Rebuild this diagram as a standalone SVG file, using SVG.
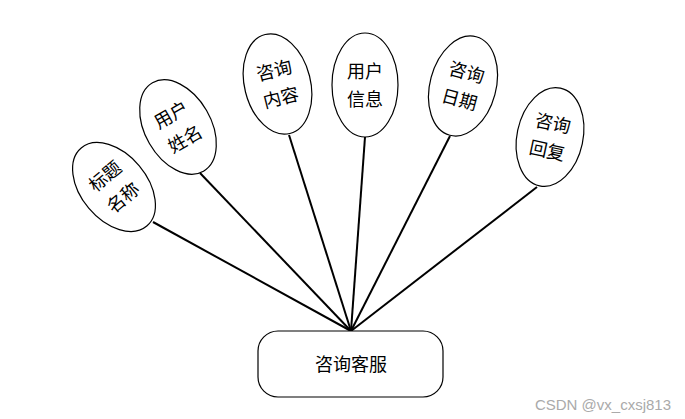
<svg xmlns="http://www.w3.org/2000/svg" width="685" height="419" viewBox="0 0 685 419">
<style>
.e{fill:#fff;stroke:#000;stroke-width:1.2}
.t{font-family:"Noto Sans CJK SC","Noto Sans",sans-serif;font-size:18px;fill:#000;text-anchor:middle}
.c{stroke:#000;stroke-width:2;fill:none}
.wm{font-family:"Liberation Sans",Arial,sans-serif;font-size:15px;fill:#aaa;text-anchor:end}
</style>
<rect width="685" height="419" fill="#fff"/>
<g id="connectors">
<line class="c" x1="351" y1="331" x2="153" y2="222"/>
<line class="c" x1="351" y1="331" x2="200" y2="173"/>
<line class="c" x1="351" y1="331" x2="289" y2="135"/>
<line class="c" x1="351" y1="331" x2="365" y2="137"/>
<line class="c" x1="351" y1="331" x2="450" y2="136"/>
<line class="c" x1="351" y1="331" x2="537" y2="187"/>
</g>
<g id="n1" transform="translate(114,187) rotate(-40)">
<ellipse class="e" rx="33" ry="51"/>
<text class="t"><tspan x="0" y="-7.5">标题</tspan><tspan x="0" y="20.5">名称</tspan></text>
</g>
<g id="n2" transform="translate(178,127) rotate(-30)">
<ellipse class="e" rx="33" ry="51"/>
<text class="t"><tspan x="0" y="-7.5">用户</tspan><tspan x="0" y="20.5">姓名</tspan></text>
</g>
<g id="n3" transform="translate(277.5,84) rotate(-14)">
<ellipse class="e" rx="33" ry="51"/>
<text class="t"><tspan x="0" y="-7.5">咨询</tspan><tspan x="0" y="20.5">内容</tspan></text>
</g>
<g id="n4" transform="translate(365,85)">
<ellipse class="e" rx="33" ry="52"/>
<text class="t"><tspan x="0" y="-7.5">用户</tspan><tspan x="0" y="20.5">信息</tspan></text>
</g>
<g id="n5" transform="translate(463,86) rotate(15)">
<ellipse class="e" rx="33" ry="51"/>
<text class="t"><tspan x="0" y="-7.5">咨询</tspan><tspan x="0" y="20.5">日期</tspan></text>
</g>
<g id="n6" transform="translate(550,137) rotate(12)">
<ellipse class="e" rx="33" ry="50"/>
<text class="t"><tspan x="0" y="-7.5">咨询</tspan><tspan x="0" y="20.5">回复</tspan></text>
</g>
<g id="main">
<rect class="e" x="258" y="331" width="185" height="66" rx="20" ry="20"/>
<text class="t" x="351" y="370.5">咨询客服</text>
</g>
<text class="wm" x="671" y="410">CSDN @vx_cxsj813</text>
</svg>
